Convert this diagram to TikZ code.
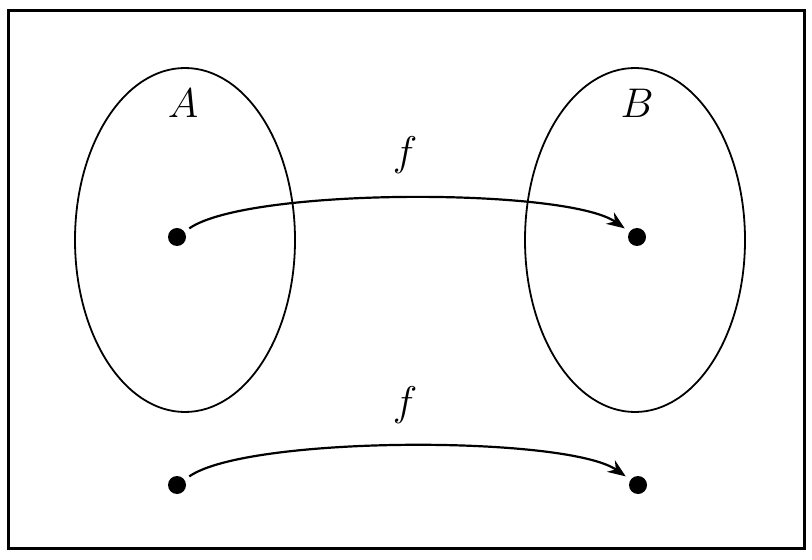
\documentclass[tikz,border=0pt]{standalone}
\usetikzlibrary{arrows.meta}
\begin{document}
\begin{tikzpicture}[x=0.5pt,y=-0.5pt,
  dot/.style={circle,fill=black,inner sep=0pt,minimum size=9pt,outer sep=3pt},
  setell/.style={draw,line width=0.9pt},
  maparrow/.style={-{Stealth[length=9pt,width=7pt]},line width=1.1pt},
  lbl/.style={font=\fontsize{22}{26}\selectfont}]
\useasboundingbox (0,0) rectangle (812,560);
\draw[line width=1.5pt] (8,11) rectangle (804,548);
\draw[setell] (185,240) ellipse [x radius=110, y radius=172];
\draw[setell] (635,240) ellipse [x radius=110, y radius=172];
\node[lbl] (la) at (183,103) {$A$};
\node[lbl] (lb) at (637,103) {$B$};
\node[dot] (a1) at (177,237) {};
\node[dot] (b1) at (637,237) {};
\node[dot] (a2) at (177,485) {};
\node[dot] (b2) at (638,485) {};
\draw[maparrow] (a1) to[out=35,in=145,looseness=0.42] (b1);
\draw[maparrow] (a2) to[out=35,in=145,looseness=0.42] (b2);
\node[lbl] (f1) at (405,155) {$f$};
\node[lbl] (f2) at (405,405) {$f$};
\end{tikzpicture}
\end{document}
